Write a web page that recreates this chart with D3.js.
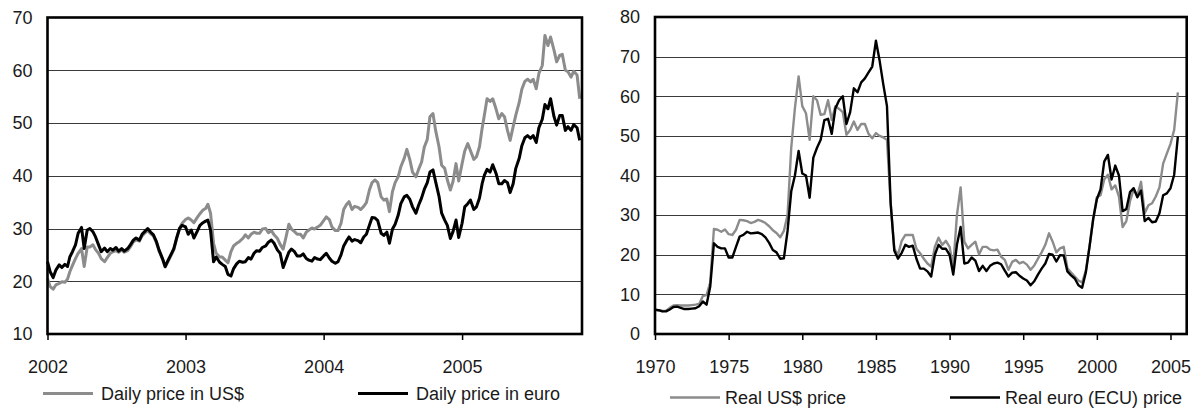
<!DOCTYPE html>
<html>
<head>
<meta charset="utf-8">
<script src="https://cdn.jsdelivr.net/npm/d3@7"></script>
<style>
  body { margin: 0; background: #fff; }
  text { font-family: "Liberation Sans", Arial, Helvetica, sans-serif; font-size: 18px; fill: #1a1a1a; }
</style>
</head>
<body>
<svg id="chart" width="1198" height="409"></svg>
<script>
// ---- left panel: daily oil price 2002-2005, read four times a month ----
var dailyUsd = [
  20.5, 19.0, 18.5, 19.3, 19.6, 19.9, 19.8, 20.4, 21.8, 23.0, 24.3, 25.3,
  26.2, 22.8, 26.5, 26.5, 26.9, 26.0, 25.3, 24.3, 23.7, 24.5, 25.3, 25.6,
  25.8, 25.5, 25.9, 25.5, 25.8, 26.5, 27.5, 27.8, 27.6, 28.6, 29.2, 29.6,
  29.0, 28.6, 27.3, 25.7, 24.2, 22.7, 23.8, 24.8, 26.0, 28.0, 30.0, 31.0,
  31.7, 32.0, 31.6, 31.1, 32.1, 32.8, 33.5, 33.8, 34.6, 32.9, 27.2, 25.3,
  24.6, 24.6, 24.0, 23.5, 25.6, 26.7, 27.2, 27.5, 28.1, 28.8, 28.2, 28.9,
  29.3, 29.1, 29.1, 29.9, 30.0, 29.2, 29.6, 28.8, 28.1, 27.0, 26.1, 28.2,
  30.8, 29.9, 29.4, 28.9, 28.9, 28.2, 29.3, 29.7, 30.1, 29.9, 30.3, 30.6,
  31.5, 32.2, 31.7, 30.3, 29.6, 29.6, 31.0, 33.6, 34.5, 35.1, 33.6, 34.2,
  34.0, 33.6, 34.2, 34.9, 37.3, 38.7, 39.2, 38.7, 36.0, 35.4, 35.6, 33.2,
  37.0, 38.7, 39.8, 41.7, 43.3, 45.0, 43.0, 40.7, 39.8, 41.2, 42.6, 45.4,
  46.9, 51.2, 51.8, 48.6, 45.5, 42.0, 41.4, 39.2, 37.3, 38.9, 42.3, 39.0,
  42.3, 44.7, 46.1, 44.8, 43.1, 43.6, 45.5, 49.0, 51.5, 54.6, 54.1, 54.6,
  52.6, 50.8, 51.8, 51.2, 48.6, 46.7, 49.3, 51.5, 53.9, 56.4, 57.9, 58.3,
  57.8, 58.3, 56.5, 59.4, 60.9, 66.6, 64.7, 66.3, 63.8, 61.6, 62.8, 63.0,
  60.0, 59.7, 58.7, 59.8, 59.1, 54.6
];
var dailyEuro = [
  23.7, 21.8, 20.7, 22.1, 23.1, 22.6, 23.2, 22.8, 24.6, 25.6, 26.9, 29.1,
  30.2, 26.2, 29.7, 30.0, 29.4, 28.4, 26.9, 25.6, 26.3, 25.6, 26.2, 25.9,
  26.4, 25.7, 26.2, 25.7, 26.2, 26.9, 27.8, 28.2, 27.8, 28.9, 29.5, 30.0,
  29.3, 28.8, 27.5, 25.9, 24.3, 22.8, 24.0, 25.0, 26.2, 28.1, 30.0, 30.6,
  30.3, 28.9, 29.7, 28.2, 29.5, 30.6, 31.1, 31.4, 31.6, 29.7, 23.7, 24.6,
  23.6, 23.2, 22.8, 21.3, 21.0, 22.4, 23.3, 23.8, 23.6, 23.7, 24.5, 24.2,
  25.3, 25.8, 25.7, 26.4, 26.7, 27.4, 27.8, 27.2, 25.9, 25.3, 22.6, 24.0,
  25.5, 26.1, 25.6, 24.8, 24.8, 25.2, 24.3, 24.0, 23.8, 24.5, 24.2, 24.1,
  24.8, 25.3, 24.4, 23.8, 23.4, 23.7, 25.0, 26.7, 27.6, 28.4, 27.6, 27.9,
  27.7, 27.3, 28.4, 28.9, 30.6, 32.1, 32.0, 31.5, 29.1, 28.7, 29.3, 27.2,
  29.9, 30.8, 32.5, 34.7, 36.0, 36.3, 35.5, 34.1, 32.9, 34.4, 35.8, 37.4,
  38.7, 40.7, 41.1, 38.9, 36.1, 32.9, 31.6, 30.6, 28.1, 29.4, 31.6, 28.3,
  31.0, 34.1, 34.7, 35.4, 33.6, 34.1, 35.8, 38.5, 40.1, 41.2, 40.7, 42.1,
  40.4, 38.5, 38.5, 39.1, 38.7, 36.8, 38.5, 41.4, 43.3, 45.7, 47.2, 47.6,
  47.1, 47.6, 46.3, 49.1, 50.7, 53.5, 52.7, 54.6, 51.2, 49.6, 51.4, 51.4,
  48.6, 49.3, 48.6, 49.7, 49.1, 46.7
];
var dailyDays = [1, 8, 16, 23];
var dailyYears = [2002, 2003, 2004, 2005];
var dailyTicks = [10, 20, 30, 40, 50, 60, 70];
var dailyLabels = ["Daily price in US$", "Daily price in euro"];

// ---- right panel: real price, quarterly 1970Q1 - 2005Q3 ----
var realUsd = [
  6.2, 6.0, 5.8, 5.9,   6.6, 7.2, 7.3, 7.2,   7.2, 7.2, 7.3, 7.4,   7.6, 9.6, 9.8, 13.0,
  26.5, 26.3, 25.8, 26.4,   25.2, 25.0, 26.3, 28.8,   28.7, 28.5, 28.0, 28.3,   28.8, 28.5, 28.0, 27.2,
  26.2, 25.5, 24.4, 26.0,   30.0, 47.0, 57.0, 65.0,   57.5, 55.7, 49.0, 60.0,   59.0, 55.3, 55.5, 59.0,
  54.0, 57.5, 56.8, 56.0,   50.3, 51.5, 53.6, 51.5,   53.0, 53.0, 50.5, 49.4,   50.7, 50.0, 49.6, 49.0,
  33.0, 21.5, 20.0, 23.5,   25.0, 25.0, 25.0, 21.5,   20.4, 19.0, 17.8, 17.0,   22.0, 24.3, 22.5, 23.5,
  22.0, 17.0, 30.0, 37.0,   23.3, 21.6, 22.5, 23.3,   20.1, 22.0, 22.0, 21.3,   21.1, 21.3, 19.5, 18.7,
  16.2, 18.2, 18.7, 17.8,   18.2, 17.5, 16.2, 17.3,   19.0, 20.6, 22.5, 25.4,   23.3, 20.6, 21.6, 22.0,
  16.6, 15.5, 14.5, 13.5,   13.0, 16.0, 22.0, 29.0,   34.5, 35.0, 39.0, 40.2,   36.5, 37.5, 34.7, 27.0,
  28.5, 33.5, 36.5, 35.0,   38.4, 30.5, 32.5, 33.0,   34.7, 37.0, 43.0, 45.5,   48.0, 51.5, 61.0
];
var realEuro = [
  6.1, 6.0, 5.7, 5.7,   6.2, 6.8, 6.9, 6.6,   6.3, 6.3, 6.4, 6.5,   7.0, 8.2, 7.4, 12.0,
  22.9, 22.0, 21.6, 21.6,   19.3, 19.3, 22.0, 24.6,   25.0, 25.8, 25.4, 25.5,   25.6, 25.2, 24.4, 23.0,
  21.2, 20.6, 19.0, 19.1,   26.0, 36.0, 40.0, 46.2,   40.5, 40.0, 34.4, 44.5,   47.0, 49.0, 54.0, 54.3,
  50.5, 57.0, 59.0, 60.0,   53.0, 56.0, 62.0, 61.0,   63.5, 64.5, 66.0, 67.5,   74.0, 69.0, 63.0, 57.5,
  33.0, 21.0, 19.0, 20.5,   22.5, 22.0, 22.3, 19.0,   16.5, 16.5, 15.8, 14.5,   20.0, 22.5, 21.5, 21.5,
  20.0, 15.0, 22.5, 27.0,   17.8, 18.0, 19.3, 18.5,   15.9, 17.2, 15.9, 17.2,   17.8, 18.0, 17.6, 16.0,
  14.5, 15.5, 15.6, 14.7,   14.0, 13.5, 12.3, 13.3,   15.0, 16.5, 17.8, 20.2,   20.0, 18.3, 19.9, 19.8,
  15.8, 14.8, 14.0, 12.3,   11.7, 15.5, 22.0, 29.0,   34.0, 36.5, 43.5, 45.2,   39.0, 42.5, 40.0, 31.0,
  31.5, 35.8, 36.8, 34.5,   36.2, 28.5, 29.3, 28.2,   28.4, 30.5, 35.0, 35.5,   36.8, 40.2, 49.8
];
var realYears = [1970, 1975, 1980, 1985, 1990, 1995, 2000, 2005];
var realTicks = [0, 10, 20, 30, 40, 50, 60, 70, 80];
var realLabels = ["Real US$ price", "Real euro (ECU) price"];

var grey = "#8c8c8c", black = "#000";

// sampling dates of the daily series: four readings per month
var dailyDates = [];
d3.timeMonth.range(new Date(2002, 0, 1), new Date(2005, 11, 1)).forEach(function(m) {
  dailyDays.forEach(function(day) {
    dailyDates.push(new Date(m.getFullYear(), m.getMonth(), day));
  });
});
dailyDates = dailyDates.slice(0, dailyUsd.length);

var quarters = realUsd.map(function(d, i) { return 1970 + i / 4; });

var svg = d3.select("#chart");

function panel(p) {
  var g = svg.append("g");
  var x = p.x, y = p.y;
  var x0 = x.range()[0], x1 = x.range()[1];
  var yb = y.range()[0], yt = y.range()[1];

  // horizontal grid
  g.selectAll(".grid")
    .data(p.yTicks.slice(1, -1))
    .enter().append("line")
    .attr("x1", x0).attr("x2", x1)
    .attr("y1", function(d) { return Math.round(y(d)) + 0.5; })
    .attr("y2", function(d) { return Math.round(y(d)) + 0.5; })
    .attr("stroke", "#3a3a3a")
    .attr("stroke-width", 1);

  var line = d3.line()
    .x(function(d) { return x(d[0]); })
    .y(function(d) { return y(d[1]); });

  p.series.forEach(function(s) {
    g.append("path")
      .datum(p.t.map(function(t, i) { return [t, s.values[i]]; }))
      .attr("fill", "none")
      .attr("stroke", s.color)
      .attr("stroke-width", p.lw)
      .attr("stroke-linejoin", "round")
      .attr("d", line);
  });

  // frame
  g.append("rect")
    .attr("x", x0).attr("y", yt)
    .attr("width", x1 - x0).attr("height", yb - yt)
    .attr("fill", "none")
    .attr("stroke", "#000")
    .attr("stroke-width", 2.6);

  var xAxis = g.append("g")
    .attr("transform", "translate(0," + yb + ")")
    .call(d3.axisBottom(x)
      .tickValues(p.xTicks)
      .tickFormat(p.xFormat)
      .tickSize(6)
      .tickSizeOuter(0)
      .tickPadding(20));
  xAxis.select(".domain").remove();
  xAxis.selectAll(".tick line").attr("stroke-width", 1.5);

  var yAxis = g.append("g")
    .attr("transform", "translate(" + x0 + ",0)")
    .call(d3.axisLeft(y)
      .tickValues(p.yTicks)
      .tickSize(0)
      .tickPadding(15));
  yAxis.select(".domain").remove();

  // legend
  var leg = g.selectAll(".leg")
    .data(p.series)
    .enter().append("g")
    .attr("transform", function(d, i) { return "translate(" + p.legX[i] + "," + p.legY + ")"; });
  leg.append("line")
    .attr("x1", 0).attr("x2", 50)
    .attr("stroke", function(d) { return d.color; })
    .attr("stroke-width", p.lw);
  leg.append("text")
    .attr("x", p.legGap)
    .attr("dy", "0.35em")
    .text(function(d) { return d.label; });
}

panel({
  x: d3.scaleTime().domain([new Date(2002, 0, 1), new Date(2005, 10, 14)]).range([47.5, 582]),
  y: d3.scaleLinear().domain([10, 70]).range([334, 17.5]),
  t: dailyDates,
  series: [
    { values: dailyUsd, color: grey, label: dailyLabels[0] },
    { values: dailyEuro, color: black, label: dailyLabels[1] }
  ],
  xTicks: dailyYears.map(function(yr) { return new Date(yr, 0, 1); }),
  xFormat: d3.timeFormat("%Y"),
  yTicks: dailyTicks,
  lw: 3,
  legX: [43, 358],
  legY: 393.5,
  legGap: 58
});

panel({
  x: d3.scaleLinear().domain([1970, 2006.1]).range([655, 1186.7]),
  y: d3.scaleLinear().domain([0, 80]).range([334, 17]),
  t: quarters,
  series: [
    { values: realUsd, color: grey, label: realLabels[0] },
    { values: realEuro, color: black, label: realLabels[1] }
  ],
  xTicks: realYears,
  xFormat: d3.format("d"),
  yTicks: realTicks,
  lw: 2.4,
  legX: [670, 950],
  legY: 397.5,
  legGap: 55
});
</script>
</body>
</html>
